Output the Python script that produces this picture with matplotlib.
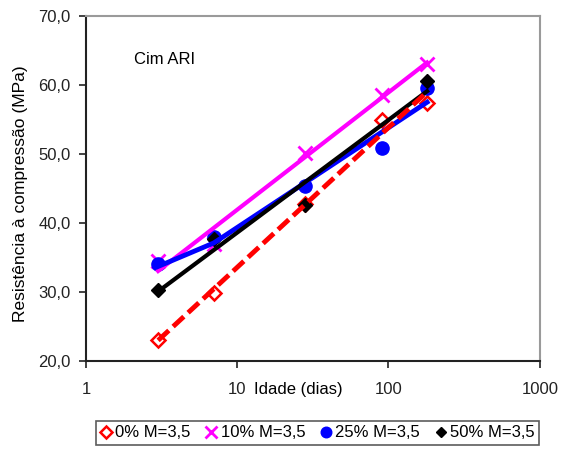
import numpy as np
import matplotlib
matplotlib.use("Agg")
import matplotlib.pyplot as plt
from matplotlib.ticker import FuncFormatter, FixedLocator, NullLocator

plt.rcParams['font.family'] = ['Liberation Sans', 'DejaVu Sans']

# idades de ensaio (dias)
idades = [3, 7, 28, 91, 180]

# resistencia a compressao (MPa) por teor de substituicao
r_0 = [23.0, 29.9, 42.8, 55.0, 57.4]
r_10 = [34.5, 37.0, 50.2, 58.6, 63.1]
r_25 = [34.1, 37.9, 45.3, 50.9, 59.6]
r_50 = [30.3, 37.7, 42.6, np.nan, 60.6]   # ponto de 91 dias nao aparece

labels = ['0% M=3,5', '10% M=3,5', '25% M=3,5', '50% M=3,5']
y_ticks = [20, 30, 40, 50, 60, 70]
x_ticks = [1, 10, 100, 1000]


def log_fit(x, y):
    # ajuste logaritmico y = a*log10(x) + b, ignorando pontos ausentes
    x = np.asarray(x, dtype=float)
    y = np.asarray(y, dtype=float)
    ok = ~np.isnan(y)
    a, b = np.polyfit(np.log10(x[ok]), y[ok], 1)
    return a * np.log10(x) + b


x = np.array(idades, dtype=float)
fs = 12

fig = plt.figure(figsize=(5.73, 4.5), dpi=100)
ax = fig.add_axes([0.150, 0.198, 0.792, 0.766])
ax.set_xscale('log')

# pontos experimentais
ax.plot(x, r_0, ls='none', marker='D', ms=7.5, mfc='white', mec='#ff0000', mew=1.8,
        label=labels[0], zorder=3)
ax.plot(x, r_10, ls='none', marker='x', ms=10, mec='#ff00ff', mew=2,
        label=labels[1], zorder=3)
ax.plot(x, r_25, ls='none', marker='o', ms=9.5, color='#0000ff',
        label=labels[2], zorder=3)
ax.plot(x, r_50, ls='none', marker='D', ms=7, color='black',
        label=labels[3], zorder=4)

# linhas de tendencia (desenhadas por cima dos pontos)
ax.plot(x, log_fit(x, r_10), color='#ff00ff', lw=3, zorder=5)
fit_25 = log_fit(x[1:], r_25[1:])
ax.plot(x, np.concatenate([[r_25[0] - 0.4], fit_25]), color='#0000ff', lw=3.5, zorder=5)
ax.plot(x, log_fit(x, r_50), color='black', lw=3, zorder=6)
ax.plot(x, log_fit(x, r_0), color='#ff0000', lw=3.5, dashes=(3, 1.2), zorder=7)

ax.set_xlim(1, 1000)
ax.set_ylim(20, 70)
ax.xaxis.set_major_locator(FixedLocator(x_ticks))
ax.xaxis.set_minor_locator(NullLocator())
ax.xaxis.set_major_formatter(FuncFormatter(lambda v, p: f"{v:g}"))
ax.set_yticks(y_ticks)
ax.yaxis.set_major_formatter(FuncFormatter(lambda v, p: f"{v:.1f}".replace('.', ',')))
ax.tick_params(axis='both', direction='out', length=5, width=1.2, labelsize=fs,
               colors='#222222')
ax.tick_params(axis='x', pad=10)
ax.tick_params(axis='y', pad=6)

for s in ['left', 'bottom']:
    ax.spines[s].set_color('#222222')
    ax.spines[s].set_linewidth(1.5)
for s in ['top', 'right']:
    ax.spines[s].set_color('#9a9a9a')
    ax.spines[s].set_linewidth(1.5)

ax.set_ylabel('Resistência à compressão (MPa)', fontsize=12.5)
ax.yaxis.set_label_coords(-0.128, 0.485)
ax.set_xlabel('Idade (dias)', fontsize=fs)
ax.xaxis.set_label_coords(0.469, -0.062)

ax.text(0.105, 0.862, 'Cim ARI', transform=ax.transAxes, fontsize=fs)

leg = fig.legend(loc='center', bbox_to_anchor=(0.554, 0.038), ncol=4, fontsize=fs,
                 frameon=True, fancybox=False, edgecolor='#333333',
                 handlelength=0.7, handletextpad=0.2, columnspacing=0.9,
                 borderpad=0.25, markerscale=0.8)
leg.get_frame().set_linewidth(1.2)

fig.savefig('out.png', dpi=100)
